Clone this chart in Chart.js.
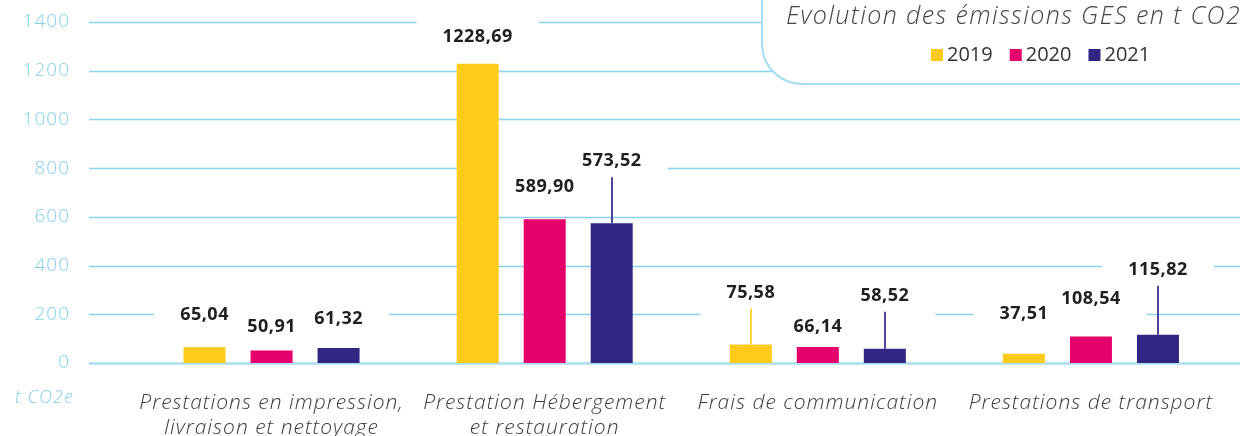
<!DOCTYPE html>
<html lang="fr">
<head>
    <meta charset="UTF-8">
    <title>Evolution des émissions GES</title>
    <script src="https://cdnjs.cloudflare.com/ajax/libs/Chart.js/4.4.0/chart.umd.min.js"></script>
    <style>
        html, body { margin: 0; padding: 0; background: #fff; }
        .chart-container { position: relative; width: 1240px; height: 436px; }
    </style>
</head>
<body>
    <div class="chart-container">
        <canvas id="chart"></canvas>
    </div>

    <script>
        // Data (t CO2e)
        const categories = [
            ["Prestations en impression,", "livraison et nettoyage"],
            ["Prestation Hébergement", "et restauration"],
            "Frais de communication",
            "Prestations de transport"
        ];
        const years = ["2019", "2020", "2021"];
        const emissions2019 = [65.04, 1228.69, 75.58, 37.51];
        const emissions2020 = [50.91, 589.90, 66.14, 108.54];
        const emissions2021 = [61.32, 573.52, 58.52, 115.82];

        const chartTitle = "Evolution des émissions GES en t CO2e";
        const unitLabel = "t CO2e";

        // styling
        const FONT = "'Open Sans', sans-serif";
        const GRID = "#8dd3f0";
        const barColors = ["#ffcb1a", "#e5006b", "#312783"];
        const leaderColors = ["#ffd33d", "#e5006b", "#4b4699"];
        // how far each value label sits above its bar, in px
        const labelLift = [
            [32, 27, 52, 40],
            [24, 32, 20, 38],
            [29, 62, 53, 65]
        ];

        function fmt(v) {
            return v.toFixed(2).replace(".", ",");
        }

        function valueLabels(chart) {
            const out = [];
            chart.data.datasets.forEach((ds, i) => {
                chart.getDatasetMeta(i).data.forEach((bar, j) => {
                    const lift = labelLift[i][j];
                    out.push({
                        x: bar.x,
                        y: bar.y - lift,
                        top: bar.y,
                        lift: lift,
                        text: fmt(ds.data[j]),
                        ds: i
                    });
                });
            });
            return out;
        }

        const decor = {
            id: "decor",
            beforeDraw(chart) {
                // the original typeface is wider than Open Sans
                chart.ctx.letterSpacing = "1px";
            },
            beforeDatasetsDraw(chart) {
                const ctx = chart.ctx;
                const y = chart.scales.y;
                ctx.save();

                // horizontal grid lines, longer than the plot area
                y.ticks.forEach(t => {
                    const py = Math.round(y.getPixelForValue(t.value)) + 0.5;
                    ctx.strokeStyle = t.value === 0 ? "#a9def3" : GRID;
                    ctx.lineWidth = t.value === 0 ? 2.5 : 1.5;
                    ctx.beginPath();
                    ctx.moveTo(89, py);
                    ctx.lineTo(chart.width, py);
                    ctx.stroke();
                });

                // white patches behind the value labels
                ctx.font = "bold 18px " + FONT;
                ctx.letterSpacing = "0.5px";
                ctx.fillStyle = "#fff";
                valueLabels(chart).forEach(l => {
                    const w = ctx.measureText(l.text).width;
                    ctx.fillRect(l.x - w / 2 - 26, l.y - 24, w + 52, 48);
                });

                // legend panel (rounded bottom-left corner)
                const left = 762, bottom = 84, r = 40;
                ctx.beginPath();
                ctx.moveTo(left, -10);
                ctx.lineTo(left, bottom - r);
                ctx.arcTo(left, bottom, left + r, bottom, r);
                ctx.lineTo(chart.width + 10, bottom);
                ctx.lineTo(chart.width + 10, -10);
                ctx.closePath();
                ctx.fillStyle = "#fff";
                ctx.fill();
                ctx.strokeStyle = "#a3dcf2";
                ctx.lineWidth = 2;
                ctx.stroke();

                ctx.restore();
            },
            afterDatasetsDraw(chart) {
                const ctx = chart.ctx;
                ctx.save();

                const labels = valueLabels(chart);

                // thin leader lines for labels sitting far above their bar
                labels.forEach(l => {
                    if (l.lift < 45) return;
                    ctx.strokeStyle = leaderColors[l.ds];
                    ctx.lineWidth = 2;
                    ctx.beginPath();
                    ctx.moveTo(Math.round(l.x), l.y + 16);
                    ctx.lineTo(Math.round(l.x), l.top);
                    ctx.stroke();
                });

                ctx.font = "bold 18px " + FONT;
                ctx.letterSpacing = "0.5px";
                ctx.fillStyle = "#1f1f1f";
                ctx.textAlign = "center";
                ctx.textBaseline = "middle";
                labels.forEach(l => ctx.fillText(l.text, l.x, l.y));

                // title + legend inside the panel
                ctx.textAlign = "left";
                ctx.textBaseline = "alphabetic";
                ctx.font = "italic 300 25px " + FONT;
                ctx.letterSpacing = "1.4px";
                ctx.fillStyle = "#444";
                ctx.fillText(chartTitle, 786, 24);

                ctx.font = "20px " + FONT;
                ctx.letterSpacing = "0px";
                ctx.textBaseline = "middle";
                let x = 931;
                chart.data.datasets.forEach(ds => {
                    ctx.fillStyle = ds.backgroundColor;
                    ctx.fillRect(x, 49, 12, 12);
                    ctx.fillStyle = "#333";
                    ctx.fillText(ds.label, x + 16, 55);
                    x += 16 + ctx.measureText(ds.label).width + 17;
                });

                // unit under the y axis
                ctx.font = "italic 300 18px " + FONT;
                ctx.letterSpacing = "1px";
                ctx.fillStyle = "#86d0ee";
                ctx.fillText(unitLabel, 15, 398);

                ctx.restore();
            }
        };

        const ctx = document.getElementById("chart").getContext("2d");
        new Chart(ctx, {
            type: "bar",
            data: {
                labels: categories,
                datasets: [emissions2019, emissions2020, emissions2021].map((vals, i) => ({
                    label: years[i],
                    data: vals,
                    backgroundColor: barColors[i],
                    borderWidth: 0,
                    categoryPercentage: 0.736,
                    barPercentage: 0.627
                }))
            },
            options: {
                responsive: true,
                maintainAspectRatio: false,
                animation: false,
                layout: {
                    padding: { top: 22, right: 12.5, bottom: 0, left: 0 }
                },
                plugins: {
                    legend: { display: false },
                    tooltip: { enabled: false }
                },
                scales: {
                    x: {
                        grid: { display: false, drawTicks: false },
                        border: { display: false },
                        ticks: {
                            padding: 27,
                            color: "#3a3a3a",
                            font: { family: FONT, size: 21, style: "italic", weight: 300, lineHeight: 1.2 }
                        },
                        afterFit(scale) {
                            scale.height = 73;
                            scale.paddingLeft = 0;
                            scale.paddingRight = 0;
                        }
                    },
                    y: {
                        min: 0,
                        max: 1400,
                        grid: { display: false, drawTicks: false },
                        border: { display: false },
                        ticks: {
                            stepSize: 200,
                            padding: 65,
                            color: "#86d0ee",
                            font: { family: FONT, size: 19, weight: 300 },
                            callback: v => String(v)
                        },
                        afterFit(scale) {
                            scale.width = 135;
                            // tick padding is horizontal here, keep it out of the top/bottom margins
                            scale.paddingTop = 0;
                            scale.paddingBottom = 0;
                        }
                    }
                }
            },
            plugins: [decor]
        });
    </script>
</body>
</html>
